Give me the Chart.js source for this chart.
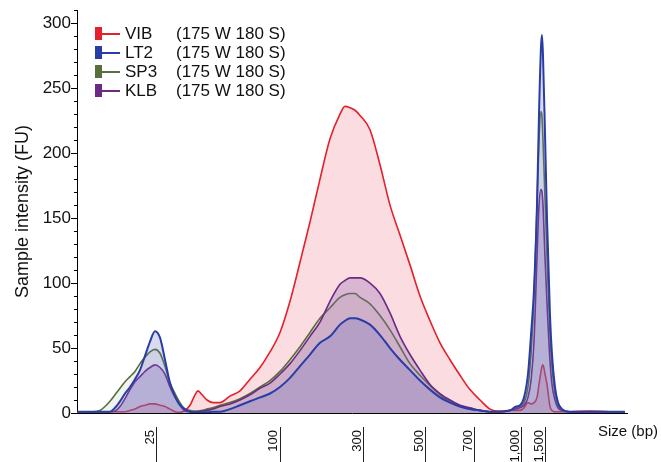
<!DOCTYPE html>
<html lang="en">
<head>
<meta charset="UTF-8">
<title>Sample intensity vs size</title>
<script src="https://cdn.jsdelivr.net/npm/chart.js"></script>
<style>
  html, body { margin: 0; padding: 0; background: #fff; }
  .wrap { position: relative; width: 661px; height: 462px; }
  #chart { display: block; }
  .legend {
    position: absolute; left: 95px; top: 24px;
    font-family: 'Liberation Sans', Arial, sans-serif; font-size: 17px; color: #111;
  }
  .legend .row { height: 19px; display: flex; align-items: center; }
  .legend .box { width: 7px; height: 13px; }
  .legend .seg { width: 18px; height: 2px; margin-right: 5px; }
  .legend .name { width: 51px; }
</style>
</head>
<body>
<div class="wrap">
  <canvas id="chart" width="661" height="462"></canvas>
  <div class="legend" id="legend"></div>
</div>
<script>
// migration time (s) and sample intensity (FU) for each sample
const timeS = [
  20.0, 22.6, 24.6, 25.6, 26.6, 27.6, 28.6, 29.6, 30.6, 31.6,
  32.6, 33.6, 34.6, 35.6, 36.6, 37.6, 38.6, 39.6, 40.6, 41.6,
  42.6, 43.6, 44.2, 45.0, 46.0, 47.2, 48.6, 50.6, 52.6, 54.6,
  56.6, 58.6, 60.6, 62.6, 64.6, 66.6, 68.6, 70.6, 72.6, 73.6,
  74.6, 75.6, 76.6, 78.6, 80.6, 82.6, 84.6, 86.6, 88.6, 90.6,
  92.6, 94.6, 96.6, 98.6, 100.6, 102.6, 104.6, 106.6, 107.8, 108.6,
  109.4, 110.2, 110.8, 111.4, 112.0, 112.4, 112.8, 113.0, 113.2, 113.6,
  114.0, 114.6, 115.0, 115.6, 116.2, 117.0, 118.6, 122.6, 126.6, 129.6
];
const vibFU = [
  1, 1, 1, 1, 1, 1, 1, 1, 2, 3,
  5, 6, 7, 7, 6, 5, 3, 1, 0.5, 2,
  6, 14, 17, 14, 10, 8, 8, 13, 17, 26,
  35, 47, 62, 86, 116, 147, 180, 211, 230, 236,
  235, 233, 229, 218, 191, 160, 137, 114, 90, 71,
  54, 41, 29, 18, 10, 3, 1.5, 2, 2, 2,
  4, 8, 7, 8, 12, 22, 32, 36, 37, 30,
  22, 5, 2, 1, 1, 1, 1, 1.5, 1, 1
];
const lt2FU = [
  1, 1, 1, 1, 1, 4, 9, 15, 20, 26,
  33, 44, 55, 63, 58, 41, 23, 13, 6, 3,
  1, 0.5, 0.5, 0.5, 0.5, 1, 1, 3, 6, 9,
  12, 15, 20, 27, 36, 45, 54, 59, 68, 71,
  73, 73, 72, 68, 60, 50, 41, 33, 25, 18,
  12, 8, 5, 3, 2, 1, 1, 2, 5, 6,
  12, 30, 60, 95, 160, 230, 282, 291, 275, 215,
  150, 75, 45, 20, 8, 3, 1, 1, 1, 1
];
const sp3FU = [
  1, 1, 2, 5, 9, 14, 19, 24, 28, 32,
  38, 43, 47, 49, 46, 36, 23, 15, 8, 3,
  2, 1.5, 1.5, 2, 3, 4, 6, 8, 11, 15,
  20, 25, 32, 41, 51, 62, 73, 81, 89, 91,
  92, 92, 89, 84, 75, 64, 51, 38, 29, 21,
  14, 9, 5, 3, 2, 1, 1, 2, 4, 5,
  8, 20, 45, 90, 160, 210, 232, 228, 210, 165,
  120, 60, 35, 15, 6, 2, 1, 1, 1, 1
];
const klbFU = [
  1, 1, 1, 1, 1, 1.5, 5, 11, 18, 24,
  28, 32, 35, 37, 35, 30, 20, 12, 6, 1.5,
  1, 1, 1, 1.5, 2, 3, 5, 7, 10, 14,
  19, 23, 30, 38, 48, 59, 70, 86, 99, 102,
  104, 104, 104, 100, 92, 77, 59, 45, 33, 22,
  15, 10, 6, 4, 2, 1, 1, 2, 3, 4,
  6, 12, 25, 55, 120, 160, 172, 170, 160, 120,
  85, 40, 22, 10, 4, 2, 1, 1, 1, 1
];

const sampleNames = ['VIB', 'LT2', 'SP3', 'KLB'];
const sampleCondition = '(175 W 180 S)';
const sampleValues = [vibFU, lt2FU, sp3FU, klbFU];
const lineColors = ['#e3202b', '#2a3da6', '#56703c', '#6c2a85'];
const fillColors = ['rgba(240,120,135,0.26)', 'rgba(105,110,200,0.25)', 'rgba(110,140,90,0.10)', 'rgba(140,95,180,0.30)'];
const drawOrder = [4, 1, 3, 2];

// ladder sizes (bp) and where they sit on the time axis
const ladderBp = ['25', '100', '300', '500', '700', '1,000', '1,500'];
const ladderTime = [34.6, 59.3, 76.0, 88.4, 98.2, 107.6, 112.4];
const yTicks = [0, 50, 100, 150, 200, 250, 300];

const FONT = "'Liberation Sans', Arial, sans-serif";

// legend (top left, inside the plot)
const legendEl = document.getElementById('legend');
sampleNames.forEach((name, i) => {
  const row = document.createElement('div');
  row.className = 'row';
  row.innerHTML = '<span class="box" style="background:' + lineColors[i] + '"></span>' +
    '<span class="seg" style="background:' + lineColors[i] + '"></span>' +
    '<span class="name">' + name + '</span><span>' + sampleCondition + '</span>';
  legendEl.appendChild(row);
});

const axisDecor = {
  id: 'axisDecor',
  afterDraw(chart) {
    const { ctx, chartArea } = chart;
    const x = chart.scales.x, y = chart.scales.y;
    ctx.save();
    ctx.strokeStyle = '#000';
    ctx.lineWidth = 1;
    // minor ticks on the y axis
    for (let v = 10; v <= 310; v += 10) {
      if (v % 50 === 0) continue;
      const py = Math.round(y.getPixelForValue(v)) + 0.5;
      ctx.beginPath();
      ctx.moveTo(chartArea.left - 3, py);
      ctx.lineTo(chartArea.left, py);
      ctx.stroke();
    }
    // lines beside the ladder labels
    ctx.strokeStyle = '#222';
    ladderTime.forEach(t => {
      const px = Math.round(x.getPixelForValue(t)) + 6.5;
      ctx.beginPath();
      ctx.moveTo(px, chartArea.bottom + 14);
      ctx.lineTo(px, chart.height);
      ctx.stroke();
    });
    ctx.fillStyle = '#111';
    ctx.font = '15px ' + FONT;
    ctx.textAlign = 'right';
    ctx.textBaseline = 'middle';
    ctx.fillText('Size (bp)', chart.width - 3, chartArea.bottom + 19);
    ctx.restore();
  }
};

new Chart(document.getElementById('chart'), {
  type: 'line',
  data: {
    datasets: sampleNames.map((name, i) => ({
      label: name + ' ' + sampleCondition,
      data: timeS.map((t, j) => ({ x: t, y: sampleValues[i][j] })),
      borderColor: lineColors[i],
      backgroundColor: fillColors[i],
      borderWidth: i === 1 ? 2 : 1.6,
      fill: 'origin',
      pointRadius: 0,
      cubicInterpolationMode: 'monotone',
      order: drawOrder[i]
    }))
  },
  options: {
    responsive: false,
    animation: false,
    layout: { padding: { top: 7, right: 34, left: 0, bottom: 0 } },
    plugins: { legend: { display: false }, tooltip: { enabled: false } },
    scales: {
      x: {
        type: 'linear', min: 20, max: 130,
        afterFit(s) { s.height = 49; },
        afterBuildTicks(s) { s.ticks = ladderTime.map(v => ({ value: v })); },
        grid: { display: false },
        border: { display: true, color: '#000', width: 1 },
        ticks: {
          autoSkip: false, minRotation: 90, maxRotation: 90, padding: 9,
          color: '#111', font: { family: FONT, size: 13 },
          callback: (v, i) => ladderBp[i]
        }
      },
      y: {
        min: 0, max: 310,
        afterFit(s) { s.width = 77; },
        afterBuildTicks(s) { s.ticks = yTicks.map(v => ({ value: v })); },
        grid: { drawOnChartArea: false, drawTicks: true, tickLength: 6, color: '#000' },
        border: { display: true, color: '#000', width: 1 },
        ticks: { padding: 0, color: '#111', font: { family: FONT, size: 17 } },
        title: {
          display: true, text: 'Sample intensity (FU)', color: '#111',
          font: { family: FONT, size: 18 }, padding: { top: 12, bottom: 0 }
        }
      }
    }
  },
  plugins: [axisDecor]
});
</script>
</body>
</html>
